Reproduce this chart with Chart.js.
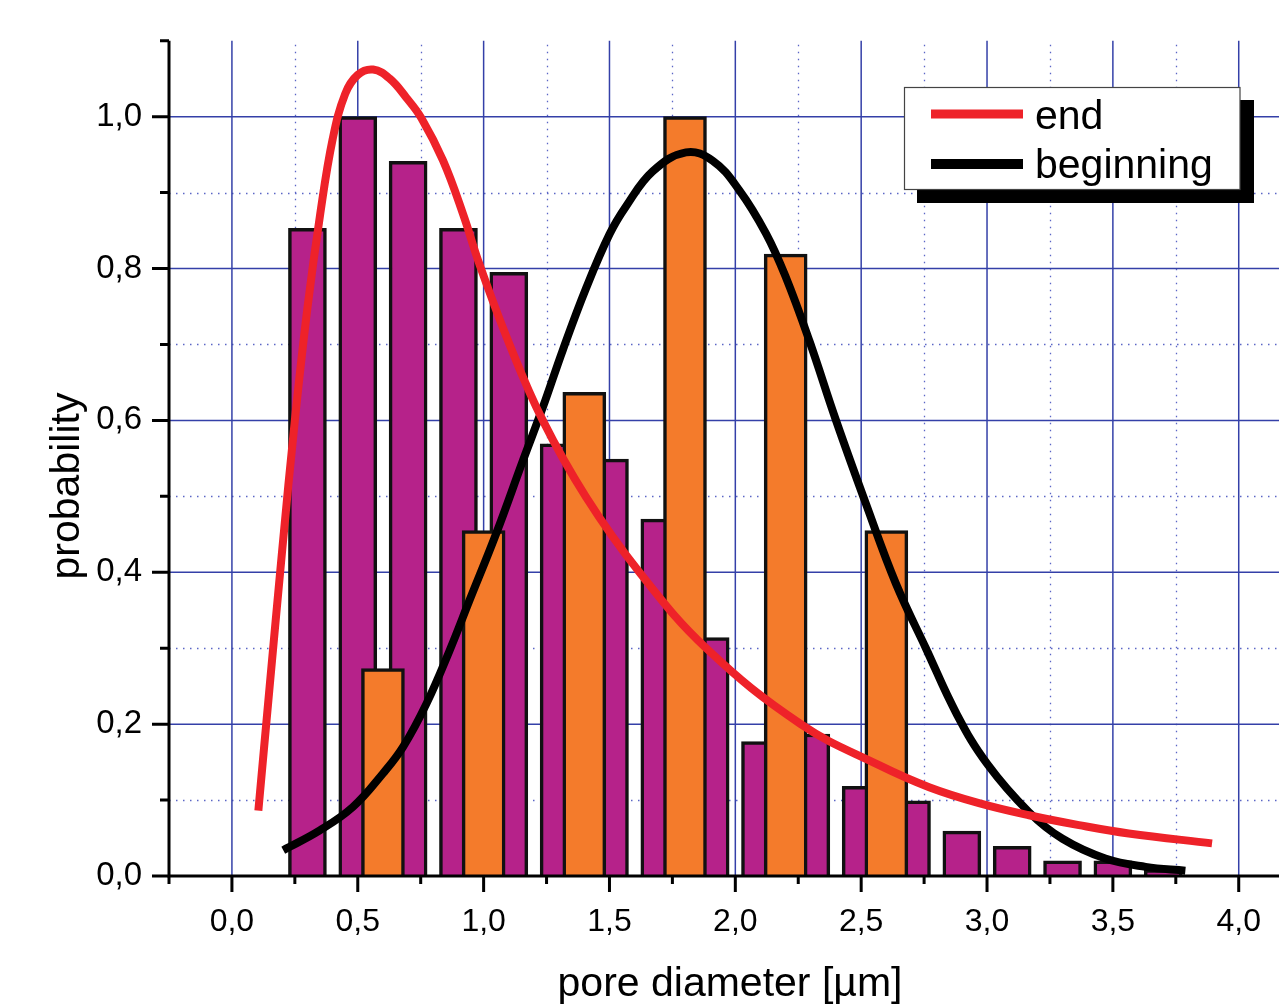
<!DOCTYPE html>
<html>
<head>
<meta charset="utf-8">
<script src="https://cdn.jsdelivr.net/npm/chart.js@4.4.1/dist/chart.umd.min.js"></script>
<style>
  html, body { margin: 0; padding: 0; background: #fff; }
  canvas { display: block; }
</style>
</head>
<body>
<canvas id="pores" width="1279" height="1006"></canvas>
<script>
// histogram: end of process (purple) and beginning (orange)
const endBinX = [0.3, 0.5, 0.7, 0.9, 1.1, 1.3, 1.5, 1.7, 1.9, 2.1, 2.3, 2.5, 2.7, 2.9, 3.1, 3.3, 3.5, 3.7];
const endBinY = [0.853, 1.0, 0.941, 0.853, 0.795, 0.569, 0.549, 0.470, 0.314, 0.177, 0.187, 0.118, 0.099, 0.059, 0.039, 0.020, 0.020, 0.008];
const beginBinX = [0.6, 1.0, 1.4, 1.8, 2.2, 2.6];
const beginBinY = [0.273, 0.455, 0.637, 1.0, 0.819, 0.455];

// fitted curves
const endFitX = [0.105, 0.15, 0.2, 0.25, 0.3, 0.35, 0.4, 0.45, 0.5, 0.561, 0.627, 0.693, 0.753, 0.839, 0.918, 0.984, 1.103, 1.235, 1.407, 1.619, 1.884, 2.26, 2.571, 2.77, 2.968, 3.167, 3.365, 3.563, 3.894];
const endFitY = [0.086, 0.25, 0.43, 0.6, 0.748, 0.87, 0.97, 1.03, 1.055, 1.062, 1.05, 1.025, 0.998, 0.942, 0.872, 0.805, 0.7, 0.6, 0.499, 0.4, 0.3, 0.2, 0.146, 0.117, 0.096, 0.08, 0.067, 0.056, 0.043];
const beginFitX = [0.204, 0.349, 0.481, 0.6, 0.68, 0.773, 0.865, 0.944, 1.05, 1.156, 1.235, 1.315, 1.407, 1.5, 1.566, 1.672, 1.804, 1.91, 2.016, 2.122, 2.2, 2.294, 2.4, 2.519, 2.638, 2.757, 2.88, 3.0, 3.167, 3.3, 3.47, 3.63, 3.788];
const beginFitY = [0.034, 0.06, 0.091, 0.135, 0.17, 0.227, 0.297, 0.363, 0.451, 0.547, 0.617, 0.693, 0.774, 0.845, 0.882, 0.928, 0.953, 0.942, 0.903, 0.846, 0.789, 0.705, 0.6, 0.49, 0.385, 0.3, 0.213, 0.148, 0.084, 0.049, 0.023, 0.012, 0.007];

// ticks
const xMajor = [0, 0.5, 1, 1.5, 2, 2.5, 3, 3.5, 4];
const xMinor = [-0.25, 0.25, 0.75, 1.25, 1.75, 2.25, 2.75, 3.25, 3.75];
const yMajor = [0, 0.2, 0.4, 0.6, 0.8, 1.0];
const yMinor = [0.1, 0.3, 0.5, 0.7, 0.9, 1.1];

const xTitle = 'pore diameter [µm]';
const yTitle = 'probability';

const FONT = '"Liberation Sans", Arial, sans-serif';
const gridBlue = '#3440a8';
const dotBlue = '#5b66c6';

const pts = (xs, ys) => xs.map((x, i) => ({x: x, y: ys[i]}));
const fmt = (v) => v.toFixed(1).replace('.', ',');

const decor = {
  id: 'decor',
  beforeDatasetsDraw(chart) {
    const {ctx, chartArea: a, scales: {x, y}} = chart;
    ctx.save();
    // dotted minor grid
    ctx.strokeStyle = dotBlue;
    ctx.lineWidth = 1.3;
    ctx.setLineDash([1.5, 5.5]);
    xMinor.filter(v => v > x.min + 0.01).forEach(v => {
      const px = Math.round(x.getPixelForValue(v)) + 0.5;
      ctx.beginPath(); ctx.moveTo(px, a.top + 4); ctx.lineTo(px, a.bottom); ctx.stroke();
    });
    yMinor.filter(v => v < 1.05).forEach(v => {
      const py = Math.round(y.getPixelForValue(v)) + 0.5;
      ctx.beginPath(); ctx.moveTo(a.left, py); ctx.lineTo(a.right, py); ctx.stroke();
    });
    // solid major grid
    ctx.setLineDash([]);
    ctx.strokeStyle = gridBlue;
    ctx.lineWidth = 1.5;
    xMajor.forEach(v => {
      const px = x.getPixelForValue(v);
      ctx.beginPath(); ctx.moveTo(px, a.top); ctx.lineTo(px, a.bottom); ctx.stroke();
    });
    yMajor.filter(v => v > 0).forEach(v => {
      const py = y.getPixelForValue(v);
      ctx.beginPath(); ctx.moveTo(a.left, py); ctx.lineTo(a.right, py); ctx.stroke();
    });
    ctx.restore();
  },
  afterDatasetsDraw(chart) {
    const {ctx, chartArea: a, scales: {x, y}} = chart;
    ctx.save();
    ctx.strokeStyle = '#000';
    ctx.lineWidth = 3;
    // axes
    ctx.beginPath();
    ctx.moveTo(a.left, a.top); ctx.lineTo(a.left, a.bottom);
    ctx.moveTo(a.left - 1.5, a.bottom); ctx.lineTo(a.right, a.bottom);
    ctx.stroke();
    // tick marks
    ctx.beginPath();
    xMajor.forEach(v => { const px = x.getPixelForValue(v); ctx.moveTo(px, a.bottom); ctx.lineTo(px, a.bottom + 16); });
    xMinor.forEach(v => { const px = Math.max(a.left, x.getPixelForValue(v)); ctx.moveTo(px, a.bottom); ctx.lineTo(px, a.bottom + 8); });
    yMajor.forEach(v => { const py = y.getPixelForValue(v); ctx.moveTo(a.left, py); ctx.lineTo(a.left - 17, py); });
    yMinor.forEach(v => { const py = y.getPixelForValue(v); ctx.moveTo(a.left, py); ctx.lineTo(a.left - 9, py); });
    ctx.stroke();

    // axis titles
    ctx.fillStyle = '#000';
    ctx.font = '41px ' + FONT;
    ctx.textAlign = 'center';
    ctx.textBaseline = 'alphabetic';
    ctx.fillText(xTitle, 730, 996);
    ctx.translate(79, 486);
    ctx.rotate(-Math.PI / 2);
    ctx.fillText(yTitle, 0, 0);
    ctx.restore();

    // legend with drop shadow
    ctx.save();
    ctx.fillStyle = '#000';
    ctx.fillRect(917, 100, 337, 103);
    ctx.fillStyle = '#fff';
    ctx.fillRect(904.5, 87.5, 335.5, 102);
    ctx.strokeStyle = '#444';
    ctx.lineWidth = 1.2;
    ctx.strokeRect(904.5, 87.5, 335.5, 102);
    const rows = [{ds: chart.data.datasets[0], y: 114, base: 128.5, w: 9},
                  {ds: chart.data.datasets[1], y: 164, base: 177.5, w: 10}];
    ctx.font = '41px ' + FONT;
    ctx.textAlign = 'left';
    rows.forEach(r => {
      ctx.strokeStyle = r.ds.borderColor;
      ctx.lineWidth = r.w;
      ctx.beginPath(); ctx.moveTo(931, r.y); ctx.lineTo(1023, r.y); ctx.stroke();
      ctx.fillStyle = '#000';
      ctx.fillText(r.ds.label, 1035, r.base);
    });
    ctx.restore();
  }
};

new Chart(document.getElementById('pores'), {
  type: 'bar',
  data: {
    datasets: [
      {
        type: 'line',
        label: 'end',
        data: pts(endFitX, endFitY),
        borderColor: '#ee2229',
        borderWidth: 8,
        pointRadius: 0,
        tension: 0.4,
        borderCapStyle: 'butt',
        order: 0,
      },
      {
        type: 'line',
        label: 'beginning',
        data: pts(beginFitX, beginFitY),
        borderColor: '#000000',
        borderWidth: 8,
        pointRadius: 0,
        tension: 0.4,
        borderCapStyle: 'butt',
        order: 1,
      },
      {
        label: 'beginning hist',
        data: pts(beginBinX, beginBinY),
        backgroundColor: '#f47b2b',
        borderColor: '#111',
        borderWidth: 3.5,
        barThickness: 43,
        grouped: false,
        order: 2,
      },
      {
        label: 'end hist',
        data: pts(endBinX, endBinY),
        backgroundColor: '#b6228a',
        borderColor: '#111',
        borderWidth: 3.5,
        barThickness: 38,
        grouped: false,
        order: 3,
      },
    ],
  },
  options: {
    responsive: false,
    animation: false,
    layout: {autoPadding: false, padding: {top: 40.7, right: 0, left: 0, bottom: 0}},
    plugins: {legend: {display: false}, tooltip: {enabled: false}},
    scales: {
      x: {
        type: 'linear',
        min: -0.25,
        max: 4.16,
        offset: false,
        grid: {display: false, drawTicks: false},
        border: {display: false},
        afterBuildTicks: (s) => { s.ticks = xMajor.map(v => ({value: v})); },
        afterFit: (s) => { s.height = 130; s.paddingLeft = 0; s.paddingRight = 0; },
        ticks: {
          autoSkip: false, maxRotation: 0, padding: 27,
          color: '#000', font: {family: FONT, size: 32},
          callback: (v) => fmt(v),
        },
      },
      y: {
        min: 0,
        max: 1.1,
        grid: {display: false, drawTicks: false},
        border: {display: false},
        afterBuildTicks: (s) => { s.ticks = yMajor.map(v => ({value: v})); },
        afterFit: (s) => { s.width = 169; s.paddingTop = 0; s.paddingBottom = 0; },
        ticks: {
          autoSkip: false, padding: 27,
          color: '#000', font: {family: FONT, size: 33},
          callback: (v) => fmt(v),
        },
      },
    },
  },
  plugins: [decor],
});
</script>
</body>
</html>
